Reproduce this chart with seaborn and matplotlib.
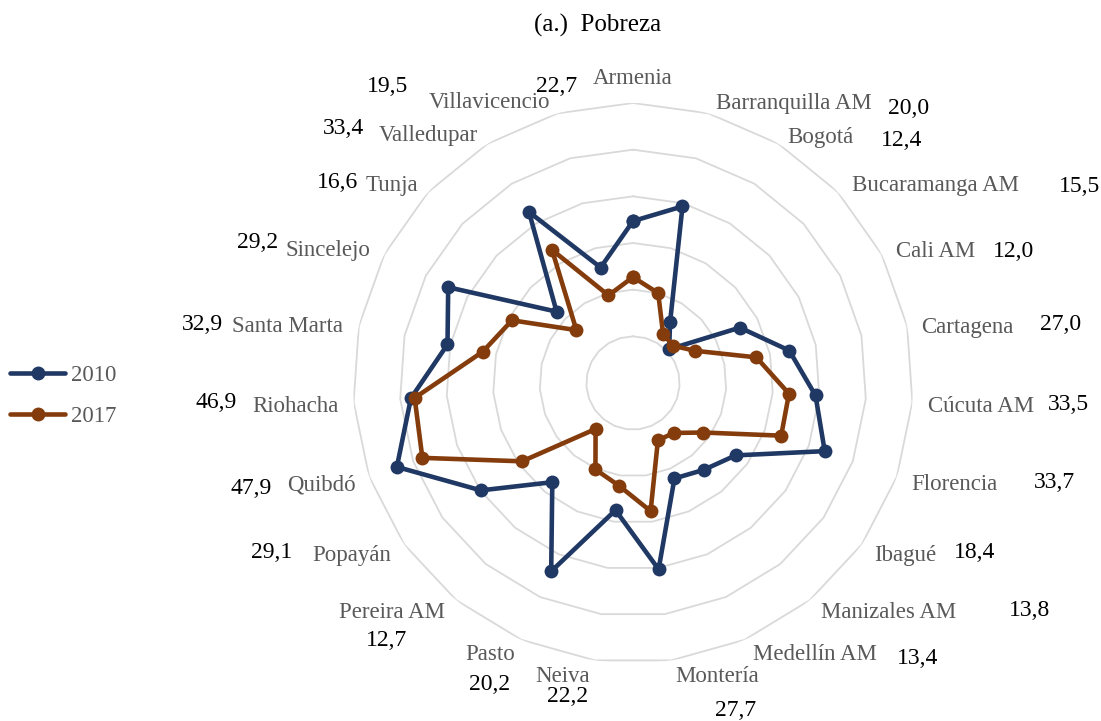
import numpy as np
import pandas as pd
import matplotlib
matplotlib.use("Agg")
import matplotlib.pyplot as plt
from matplotlib.lines import Line2D
import seaborn as sns

sns.set_theme(style="white")
plt.rcParams["font.family"] = ["Liberation Serif", "DejaVu Serif"]

# data
cities = [
    "Armenia", "Barranquilla AM", "Bogotá", "Bucaramanga AM", "Cali AM",
    "Cartagena", "Cúcuta AM", "Florencia", "Ibagué", "Manizales AM",
    "Medellín AM", "Montería", "Neiva", "Pasto", "Pereira AM", "Popayán",
    "Quibdó", "Riohacha", "Santa Marta", "Sincelejo", "Tunja",
    "Valledupar", "Villavicencio",
]
pobreza_2010 = [
    34.7, 39.3, 15.3, 10.6, 25.8, 34.2, 39.2, 43.6, 26.9, 24.0, 22.3, 40.3,
    27.5, 44.0, 27.4, 39.9, 53.7, 47.7, 40.6, 44.6, 22.4, 42.9, 25.7,
]
pobreza_2017 = [
    22.7, 20.0, 12.4, 11.7, 15.0, 27.0, 33.5, 33.7, 18.4, 13.8, 13.4, 27.7,
    22.2, 20.2, 12.7, 29.1, 47.9, 46.9, 32.9, 29.2, 16.6, 33.4, 19.5,
]
value_labels = [
    "22,7", "20,0", "12,4", "15,5", "12,0", "27,0", "33,5", "33,7", "18,4",
    "13,8", "13,4", "27,7", "22,2", "20,2", "12,7", "29,1", "47,9", "46,9",
    "32,9", "29,2", "16,6", "33,4", "19,5",
]
ring_levels = [10, 20, 30, 40, 50, 60]
years = ["2010", "2017"]

# layout: pixel centres of the category name and of the value label
name_pos = [
    (633, 79), (794, 103), (820, 137), (936, 186), (936, 251), (967, 327),
    (981, 406), (954, 485), (905, 555), (889, 612), (815, 655), (717, 677),
    (563, 677), (490, 655), (392, 613), (352, 556), (321, 485), (295, 406),
    (288, 327), (328, 250), (392, 186), (428, 136), (489, 103),
]
num_pos = [
    (557, 87), (909, 108), (902, 140), (1080, 186), (1014, 251), (1061, 325),
    (1068, 405), (1054, 483), (975, 552), (1030, 610), (918, 659), (736, 710),
    (568, 697), (490, 684), (387, 641), (272, 553), (251, 489), (216, 403),
    (202, 325), (258, 242), (338, 182), (343, 128), (388, 87),
]

colors = {"2010": "#203864", "2017": "#843C0C"}
W, H = 1101, 721
cx, cy, R = 633, 383, 280

n = len(cities)
theta = np.arange(n) * 2 * np.pi / n
theta_c = np.append(theta, 2 * np.pi)

# long table with the first point repeated to close each polygon
frames = []
for year, vals in zip(years, [pobreza_2010, pobreza_2017]):
    frames.append(pd.DataFrame({
        "theta": theta_c,
        "valor": vals + vals[:1],
        "year": year,
    }))
df = pd.concat(frames, ignore_index=True)

fig = plt.figure(figsize=(W / 100, H / 100), dpi=100)
ax = fig.add_axes(
    [(cx - R) / W, (H - cy - R) / H, 2 * R / W, 2 * R / H], projection="polar"
)
ax.set_theta_zero_location("N")
ax.set_theta_direction(-1)

# polygon grid
for lev in ring_levels:
    ax.plot(theta_c, [lev] * (n + 1), color="#D9D9D9", lw=1.3, zorder=1)

sns.lineplot(
    data=df, x="theta", y="valor", hue="year", palette=colors, sort=False,
    estimator=None, marker="o", markersize=10, markeredgewidth=0,
    linewidth=3.3, legend=False, ax=ax, zorder=3,
)

ax.set_ylim(0, 60)
ax.grid(False)
ax.set_xticks([])
ax.set_yticks([])
ax.set_xlabel("")
ax.set_ylabel("")
ax.spines["polar"].set_visible(False)
ax.set_facecolor("none")

# category names and value labels
for name, (x, y) in zip(cities, name_pos):
    fig.text(x / W, 1 - y / H, name, ha="center", va="center",
             fontsize=16.5, color="#595959")
for lab, (x, y) in zip(value_labels, num_pos):
    fig.text(x / W, 1 - y / H, lab, ha="center", va="center",
             fontsize=17, color="black")

fig.text(598 / W, 1 - 25 / H, "(a.)  Pobreza", ha="center", va="center",
         fontsize=18, color="black")

handles = [
    Line2D([], [], color=colors[y], lw=3.3, marker="o", markersize=10,
           markeredgewidth=0)
    for y in years
]
fig.legend(
    handles, years, loc="center left", bbox_to_anchor=(10 / W, 1 - 396 / H),
    frameon=False, fontsize=16.5, labelcolor="#595959", handlelength=2.4,
    handletextpad=0.25, labelspacing=0.85, borderpad=0, borderaxespad=0,
)

fig.savefig("out.png", dpi=100)
